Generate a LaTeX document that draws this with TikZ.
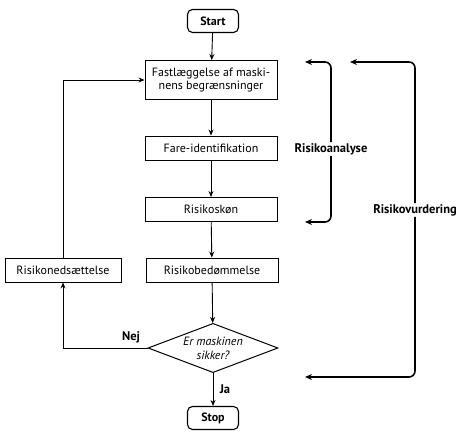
\documentclass[tikz,border=0pt]{standalone}
\usepackage{fontspec}
\setmainfont{PT Sans}
\usetikzlibrary{shapes.geometric,arrows.meta}
\begin{document}
\begin{tikzpicture}[x=1pt,y=1pt,font=\fontsize{12}{13.5}\selectfont,
    box/.style={draw,line width=0.9pt,minimum width=132pt,minimum height=24pt,inner sep=2pt,align=center},
    term/.style={draw,line width=1.1pt,rounded corners=5pt,minimum width=51pt,minimum height=23pt,inner sep=1pt,font=\fontsize{12}{13.5}\selectfont\bfseries},
    flow/.style={->,>={Stealth[length=6pt,width=5pt]},line width=0.9pt},
    bracket/.style={->,>={Stealth[length=7pt,width=6pt]},line width=1.6pt,rounded corners=6pt},
    lbl/.style={font=\fontsize{12.5}{14}\selectfont\bfseries}]
    \useasboundingbox (0,0) rectangle (468,438);
    % main column
    \node[term] (start) at (213,417) {Start};
    \node[box,minimum height=39pt,inner sep=1pt] (grenser) at (211,358) {Fastlæggelse af maski-\\nens begrænsninger};
    \node[box] (fare) at (211,290) {Fare-identifikation};
    \node[box] (skon) at (211,228.5) {Risikoskøn};
    \node[box] (bedom) at (212,168) {Risikobedømmelse};
    \node[draw,diamond,line width=1pt,aspect=2.24,minimum width=130pt,inner sep=0pt,align=center,font=\fontsize{12}{14}\selectfont\itshape] (sikker) at (213,90) {Er maskinen\\sikker?};
    \node[term] (stop) at (213,20) {Stop};
    \node[box,minimum width=116pt] (nedsat) at (63,168) {Risikonedsættelse};
    \draw[flow] (start) -- (grenser);
    \draw[flow] (grenser) -- (fare);
    \draw[flow] (fare) -- (skon);
    \draw[flow] (skon) -- (bedom);
    \draw[flow] (bedom) -- (sikker);
    \draw[flow] (sikker) -- (stop) node [lbl,midway,right=3pt] {Ja};
    \draw[flow] (sikker.west) -| (nedsat.south);
    \node[lbl,anchor=south east] (nej) at ([xshift=-4pt,yshift=1pt]sikker.west) {Nej};
    \draw[flow] (nedsat.north) |- (grenser.west);
    % brackets
    \node[lbl,fill=white,inner sep=1pt] (analyse) at (331,289) {Risikoanalyse};
    \coordinate (a1) at (305,376);
    \coordinate (a2) at (305,216);
    \draw[bracket] (analyse.north) |- (a1);
    \draw[bracket] (analyse.south) |- (a2);
    \node[lbl,fill=white,inner sep=1pt] (vurdering) at (415,228) {Risikovurdering};
    \coordinate (v1) at (350,376);
    \coordinate (v2) at (305,61);
    \draw[bracket] (vurdering.north) |- (v1);
    \draw[bracket] (vurdering.south) |- (v2);
\end{tikzpicture}
\end{document}
